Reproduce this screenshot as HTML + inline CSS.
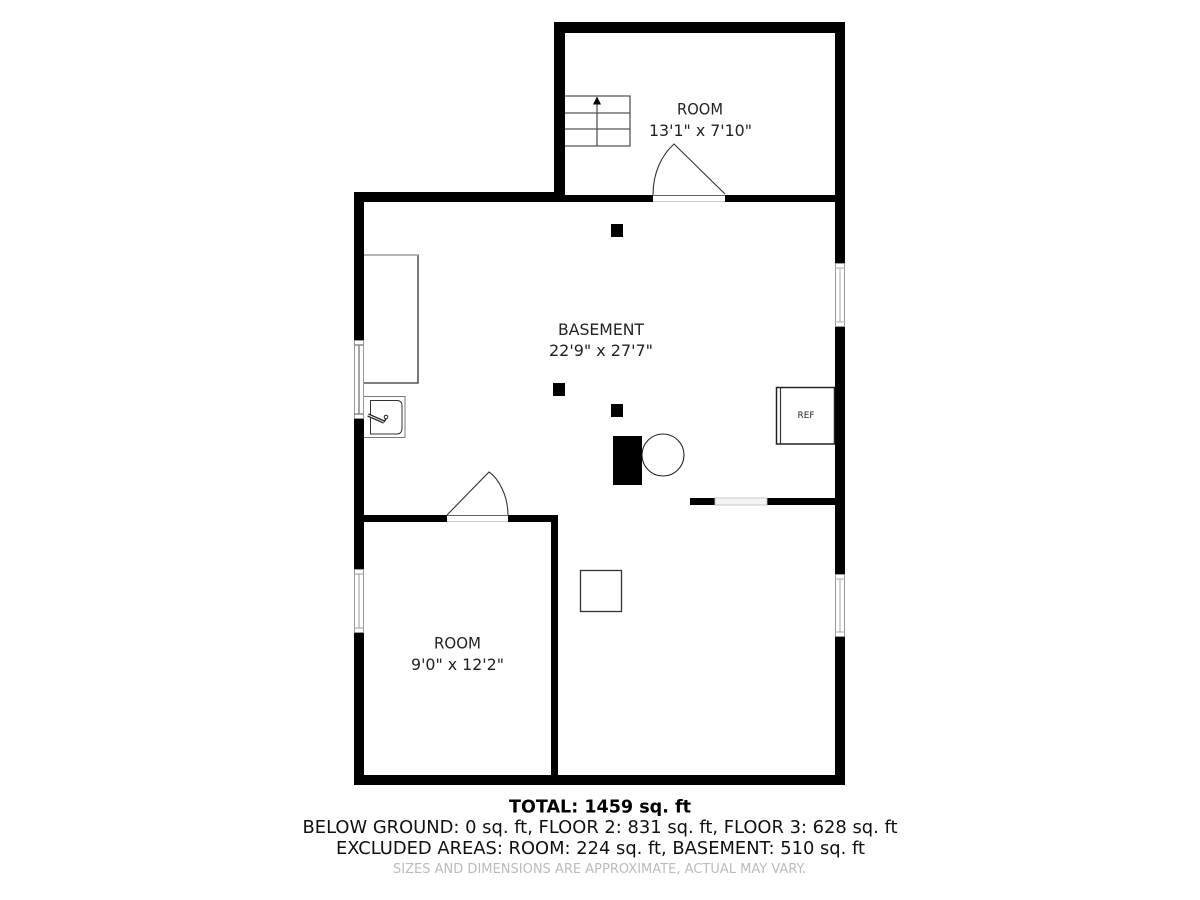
<!DOCTYPE html>
<html lang="en"><head><meta charset="utf-8"><title>Floor plan</title>
<style>
html,body{margin:0;padding:0;background:#fff;width:1200px;height:900px;overflow:hidden}
svg{display:block}
text{font-family:"DejaVu Sans","Liberation Sans",sans-serif;text-anchor:middle;fill:#222}
</style></head><body>
<svg width="1200" height="900" viewBox="0 0 1200 900" xmlns="http://www.w3.org/2000/svg">
<rect width="1200" height="900" fill="#fff"/>
<!-- walls -->
<g fill="#000">
<rect x="554" y="22" width="291" height="11"/>
<rect x="554" y="22" width="11" height="180"/>
<rect x="835" y="22" width="10" height="763"/>
<rect x="354" y="192" width="211" height="10"/>
<rect x="554" y="195" width="291" height="7"/>
<rect x="354" y="192" width="10" height="593"/>
<rect x="354" y="775" width="491" height="10"/>
<rect x="354" y="515" width="204" height="7"/>
<rect x="551" y="515" width="7" height="265"/>
<rect x="690" y="498" width="150" height="7"/>
<!-- columns -->
<rect x="611" y="224" width="12" height="13"/>
<rect x="553" y="383" width="12" height="13"/>
<rect x="611" y="404" width="12" height="13"/>
<rect x="613" y="436" width="29" height="49"/>
</g>
<!-- door top -->
<rect x="653" y="195" width="72" height="7" fill="#fff"/>
<path d="M653 195.500H725" stroke="#666" stroke-width="1" fill="none"/>
<path d="M653 201.500H725" stroke="#ccc" stroke-width="1" fill="none"/>
<path d="M725 194L674 144C662 155 653 172 653 195" stroke="#333" stroke-width="1.100" fill="#fff"/>
<!-- door lower -->
<rect x="447" y="515" width="61" height="7" fill="#fff"/>
<path d="M447 515.500H508" stroke="#666" stroke-width="1" fill="none"/>
<path d="M447 521.500H508" stroke="#ccc" stroke-width="1" fill="none"/>
<path d="M447 515L489 472C498 478 508 495 508 515" stroke="#333" stroke-width="1.100" fill="#fff"/>
<!-- partial wall opening -->
<rect x="715" y="498" width="52" height="7" fill="#f4f4f4" stroke="#bbb" stroke-width="0.800"/>
<!-- windows -->
<g fill="#fff" stroke="#999" stroke-width="1">
<rect x="835.500" y="263.500" width="9" height="63"/>
<path d="M835 268H845M835 322H845M840 268V322" stroke="#aaa"/>
<rect x="835.500" y="574.500" width="9" height="62"/>
<path d="M835 579H845M835 632H845M840 579V632" stroke="#aaa"/>
<rect x="354.500" y="340.500" width="9" height="78"/>
<path d="M354 345H364M354 414H364M359 345V414" stroke="#888" stroke-width="1.500"/>
<rect x="354.500" y="569.500" width="9" height="63"/>
<path d="M354 574H364M354 628H364M359 574V628" stroke="#999"/>
</g>
<!-- stairs -->
<g stroke="#555" stroke-width="1.300" fill="none">
<path d="M565 96H630V146H565M565 113H630M565 129H630M597 146V103"/>
</g>
<path d="M593 104.500L597 96.500L601 104.500Z" fill="#000"/>
<!-- cabinet -->
<path d="M364 255H418V383H364" fill="none" stroke="#333" stroke-width="1.300"/>
<path d="M364 255H418" stroke="#aaa" stroke-width="1.200"/>
<!-- sink -->
<path d="M364 396.500H405V437.500H364" fill="none" stroke="#777" stroke-width="1"/>
<path d="M370.500 400.500H397Q402 400.500 402 406V428Q402 434 397 434H370.500Z" fill="none" stroke="#333" stroke-width="1"/>
<path d="M368 415L384 422" stroke="#222" stroke-width="3.500" fill="none"/>
<path d="M368 415L384 422" stroke="#eee" stroke-width="1" fill="none"/>
<path d="M384 422L387 417" stroke="#222" stroke-width="1.500"/>
<circle cx="386" cy="417" r="1.800" fill="#fff" stroke="#222" stroke-width="1"/>
<!-- fridge -->
<rect x="776.500" y="387.500" width="58" height="56.500" fill="#fff" stroke="#222" stroke-width="1.500"/>
<path d="M780.500 387V444" stroke="#333" stroke-width="1.200"/>
<text x="806" y="418" font-size="9" textLength="17" lengthAdjust="spacingAndGlyphs" fill="#444">REF</text>
<!-- furnace circle -->
<circle cx="663" cy="455" r="21" fill="#fff" stroke="#222" stroke-width="1.100"/>
<!-- square -->
<rect x="580.500" y="570.500" width="41" height="41" fill="#fff" stroke="#333" stroke-width="1.300"/>
<!-- labels -->
<g font-size="16">
<text x="700" y="114.500" textLength="46" lengthAdjust="spacingAndGlyphs">ROOM</text>
<text x="700.500" y="136" textLength="103" lengthAdjust="spacingAndGlyphs">13'1" x 7'10"</text>
<text x="601" y="335" textLength="86" lengthAdjust="spacingAndGlyphs">BASEMENT</text>
<text x="601" y="356" textLength="104" lengthAdjust="spacingAndGlyphs">22'9" x 27'7"</text>
<text x="457.500" y="648.500" textLength="47" lengthAdjust="spacingAndGlyphs">ROOM</text>
<text x="457.500" y="670" textLength="93" lengthAdjust="spacingAndGlyphs">9'0" x 12'2"</text>
</g>
<text x="600" y="812.500" font-size="18" font-weight="bold" textLength="182" lengthAdjust="spacingAndGlyphs" style="fill:#000">TOTAL: 1459 sq. ft</text>
<text x="600" y="833" font-size="17.500" textLength="595" lengthAdjust="spacingAndGlyphs" style="fill:#111">BELOW GROUND: 0 sq. ft, FLOOR 2: 831 sq. ft, FLOOR 3: 628 sq. ft</text>
<text x="600.500" y="854" font-size="17.500" textLength="529" lengthAdjust="spacingAndGlyphs" style="fill:#111">EXCLUDED AREAS: ROOM: 224 sq. ft, BASEMENT: 510 sq. ft</text>
<text x="599.500" y="873" font-size="13.500" textLength="413" lengthAdjust="spacingAndGlyphs" style="fill:#bbb">SIZES AND DIMENSIONS ARE APPROXIMATE, ACTUAL MAY VARY.</text>
</svg>
</body></html>
